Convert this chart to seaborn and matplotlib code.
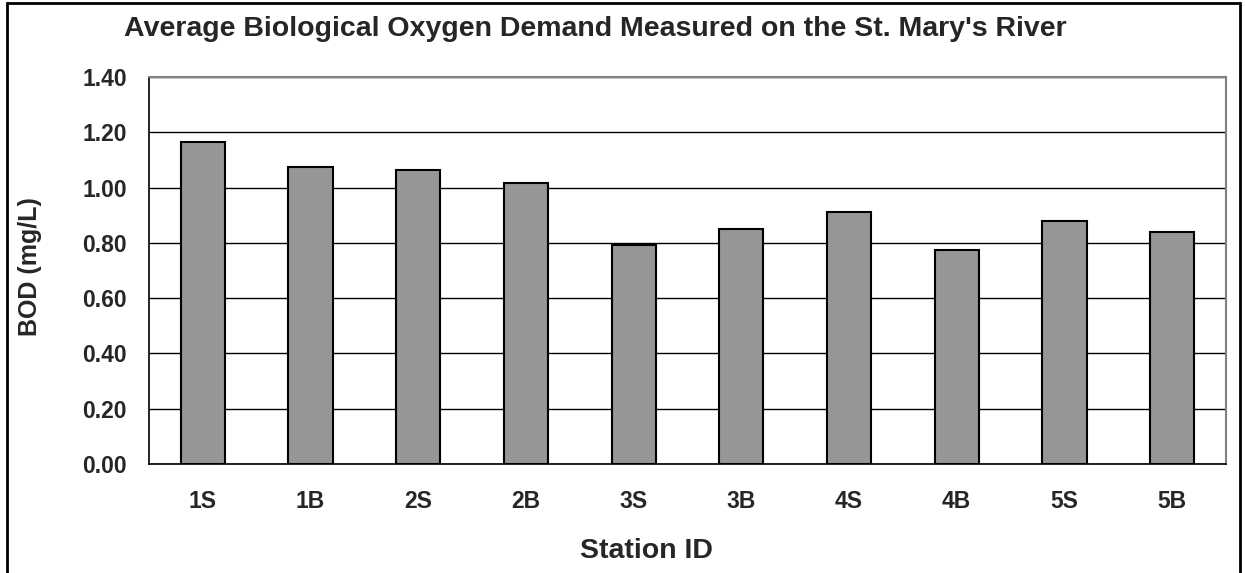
import matplotlib
matplotlib.use("Agg")
import matplotlib.pyplot as plt
import seaborn as sns
import pandas as pd
from matplotlib.patches import Rectangle

# station IDs and average BOD (mg/L)
stations = ['1S', '1B', '2S', '2B', '3S', '3B', '4S', '4B', '5S', '5B']
bod = [1.164, 1.076, 1.065, 1.016, 0.793, 0.851, 0.912, 0.773, 0.878, 0.839]
y_ticks = [0.0, 0.2, 0.4, 0.6, 0.8, 1.0, 1.2, 1.4]

sns.set_style("white")
plt.rcParams['font.family'] = ['Liberation Sans', 'DejaVu Sans']

df = pd.DataFrame({'station': stations, 'bod': bod})

W, H = 1245, 573
fig = plt.figure(figsize=(W / 100, H / 100), dpi=100)
ax = fig.add_axes([149 / W, 1 - 464 / H, (1226 - 149) / W, (464 - 77) / H])

sns.barplot(data=df, x='station', y='bod', color='#969696', saturation=1,
            edgecolor='black', linewidth=1.5, width=0.41, ax=ax, zorder=3)

ax.set_ylim(0, 1.4)
ax.set_xlim(-0.5, len(stations) - 0.5)
ax.set_yticks(y_ticks)
ax.set_yticklabels([f"{t:.2f}" for t in y_ticks], fontsize=16.5, fontweight='bold')
ax.yaxis.grid(True, color='black', linewidth=1, zorder=0)
ax.set_axisbelow(True)

# excel-style ticks between categories
ax.set_xticks(range(len(stations)))
ax.set_xticklabels(stations, fontsize=16.5, fontweight='bold')
ax.tick_params(axis='x', length=0, pad=19)
ax.set_xticks([i - 0.5 for i in range(len(stations) + 1)], minor=True)
ax.tick_params(axis='x', which='minor', length=6, width=1, color='black', direction='out')
ax.tick_params(axis='y', length=6, width=1, color='black', direction='out', pad=10)

for side in ['left', 'bottom']:
    ax.spines[side].set_color('black')
    ax.spines[side].set_linewidth(1.2)
for side in ['top', 'right']:
    ax.spines[side].set_color('#808080')
    ax.spines[side].set_linewidth(1.5)

ax.set_xlabel('')
ax.set_ylabel('')
fig.text(646 / W, 1 - 551 / H, 'Station ID', ha='center', va='center',
         fontsize=20.5, fontweight='bold')
fig.text(30 / W, 1 - 267 / H, 'BOD (mg/L)', ha='center', va='center',
         rotation=90, fontsize=18, fontweight='bold')
fig.text(595 / W, 1 - 29 / H, "Average Biological Oxygen Demand Measured on the St. Mary's River",
         ha='center', va='center', fontsize=20.5, fontweight='bold')

# outer chart border
fig.patches.append(Rectangle((7 / W, -0.05), (1240 - 7) / W, 1.05 - 3 / H,
                             transform=fig.transFigure, fill=False,
                             edgecolor='black', linewidth=2))

fig.savefig('out.png', dpi=100)
